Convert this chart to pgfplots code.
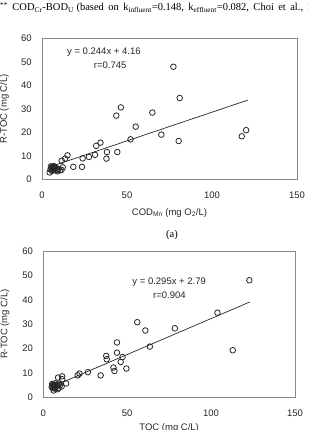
\documentclass[border=0pt]{standalone}
\usepackage{fontspec}
\setmainfont{Liberation Sans}
\newfontfamily\timesfont{Liberation Serif}
\usepackage{pgfplots}
\pgfplotsset{compat=1.18}
\definecolor{axisgray}{HTML}{8A8A8A}
\newcommand{\gap}{\hspace{4.4pt}}

\pgfplotsset{
  rtoc/.style={
    scale only axis,
    xmin=0, xmax=150, ymin=0, ymax=60,
    xtick={0,50,100,150}, ytick={0,10,...,60},
    major tick length=0pt,
    axis line style={draw=axisgray, line width=0.9pt},
    tick label style={font=\fontsize{9.5}{11}\selectfont, text=black!85},
    label style={font=\fontsize{9.5}{11}\selectfont, text=black!85},
    /pgf/number format/assume math mode=true,
    xticklabel style={yshift=-9.5pt},
    yticklabel style={xshift=-6.8pt},
    ylabel={R-TOC (mg C/L)},
    clip=false,
  },
  obs/.style={only marks, mark=o, mark size=2.8pt, mark options={line width=0.8pt, draw=black!85}},
  fit/.style={no marks, black!85, line width=0.7pt},
}

\begin{document}
\begin{tikzpicture}
\useasboundingbox (0pt,0pt) rectangle (308pt,430pt);
\clip (0pt,0pt) rectangle (308pt,430pt);

\node[anchor=base west, inner sep=0, font=\timesfont\fontsize{10.5}{12}\selectfont]
  at (0pt,419pt) {\textsuperscript{**}\gap COD\textsubscript{Cr}-BOD\textsubscript{U} (based\gap on\gap k\textsubscript{influent}=0.148,\gap k\textsubscript{effluent}=0.082,\gap Choi\gap et\gap al.,\gap 19};

% (a) R-TOC against COD_Mn
\begin{axis}[rtoc, at={(42pt,250.7pt)}, anchor=south west, width=255pt, height=141pt,
  xlabel={COD\textsubscript{Mn} (mg O\textsubscript{2}/L)},
  xlabel style={at={(axis description cs:0.5,-0.237)}, anchor=center},
  ylabel style={at={(axis description cs:-0.147,0.5)}, anchor=center}]
\addplot[obs] coordinates {
 (77.3,47.9) (81.0,34.6) (46.4,30.6) (43.7,27.1) (64.9,28.4) (55.1,22.4)
 (52.1,17.0) (70.2,19.0) (80.4,16.3) (117.5,18.3) (120.1,20.9) (34.4,15.6)
 (31.9,14.2) (31.2,10.4) (38.2,11.6) (37.9,8.8) (44.3,11.6) (27.6,9.5)
 (23.9,8.9) (23.5,5.3) (18.4,5.3) (15.0,10.2) (13.6,8.8) (11.6,7.9)
 (12.2,5.1) (11.5,4.0) (9.0,3.4) (8.6,4.0) (4.5,2.9)
 (5.0,4.2) (5.5,4.8) (6.0,5.3) (6.3,4.5) (6.8,5.0) (7.2,4.3) (5.2,5.5)
 (7.8,4.8) (6.5,3.9) (8.0,5.2) (5.8,3.6) (7.0,5.6) (9.5,4.4) (10.5,3.8)
};
% y = 0.244x + 4.16
\addplot[fit] coordinates {(5,5.38) (121,33.68)};
\node[font=\fontsize{9.5}{11}\selectfont, text=black!85] at (axis cs:36.4,53.9) {y = 0.244x + 4.16};
\node[font=\fontsize{9.5}{11}\selectfont, text=black!85] at (axis cs:40.1,48.6) {r=0.745};
\end{axis}

\node[font=\timesfont\fontsize{10.5}{12}\selectfont] at (172pt,195pt) {(a)};

% (b) R-TOC against TOC
\begin{axis}[rtoc, at={(43.3pt,32.7pt)}, anchor=south west, width=251.7pt, height=146.3pt,
  xlabel={TOC (mg C/L)},
  xlabel style={at={(axis description cs:0.5,-0.21)}, anchor=center},
  ylabel style={at={(axis description cs:-0.152,0.5)}, anchor=center}]
\addplot[obs] coordinates {
 (122.8,48.0) (103.8,34.7) (112.9,19.3) (78.4,28.3) (56.0,30.8) (60.8,27.4)
 (63.5,20.8) (43.9,22.5) (43.9,18.3) (47.2,16.5) (46.1,14.5) (49.5,11.8)
 (41.8,12.2) (42.4,10.8) (37.5,17.0) (37.8,15.6) (34.2,9.0) (26.6,10.3)
 (21.6,9.7) (20.5,9.0) (13.6,5.7) (11.2,8.6) (11.3,7.4) (8.8,8.1)
 (9.5,5.6) (10.9,4.4) (6.2,2.8)
 (5.0,4.2) (5.5,4.8) (6.0,5.2) (6.5,4.5) (7.0,5.0) (7.5,4.2) (5.3,5.5)
 (8.0,4.8) (6.8,3.6) (8.3,5.3) (7.2,5.7) (9.0,3.8) (5.8,3.8) (10.0,5.0) (8.5,3.3)
};
% y = 0.295x + 2.79
\addplot[fit] coordinates {(5,4.265) (123,39.075)};
\node[font=\fontsize{9.5}{11}\selectfont, text=black!85] at (axis cs:75,47.2) {y = 0.295x + 2.79};
\node[font=\fontsize{9.5}{11}\selectfont, text=black!85] at (axis cs:75.2,41.8) {r=0.904};
\end{axis}
\end{tikzpicture}
\end{document}
